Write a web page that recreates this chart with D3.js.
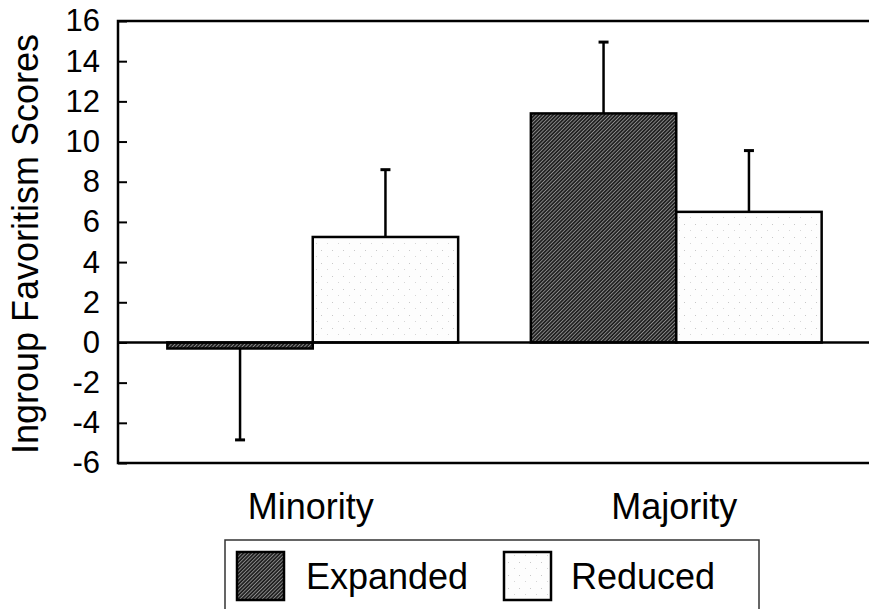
<!DOCTYPE html>
<html>
<head>
<meta charset="utf-8">
<script src="https://cdn.jsdelivr.net/npm/d3@7"></script>
<style>
  html, body { margin: 0; padding: 0; background: #fff; }
  svg { display: block; font-family: "Liberation Sans", Arial, Helvetica, sans-serif; }
</style>
</head>
<body>
<svg id="chart"></svg>
<script>
const width = 869;
const height = 609;

// data
const groups = ["Minority", "Majority"];
const conditions = ["Expanded", "Reduced"];
const expandedMeans = [-0.3, 11.4];
const reducedMeans = [5.25, 6.5];
const expandedErrors = [4.55, 3.55];
const reducedErrors = [3.35, 3.05];
const yTicks = [16, 14, 12, 10, 8, 6, 4, 2, 0, -2, -4, -6];

const rows = [];
groups.forEach((g, i) => {
  rows.push({ group: g, cond: "Expanded", value: expandedMeans[i], err: expandedErrors[i] });
  rows.push({ group: g, cond: "Reduced", value: reducedMeans[i], err: reducedErrors[i] });
});

const svg = d3.select("#chart")
  .attr("width", width)
  .attr("height", height);

const plotLeft = 118, plotTop = 21, plotBottom = 463;

const y = d3.scaleLinear()
  .domain([-6, 16])
  .range([plotBottom, plotTop]);

const x0 = d3.scaleBand()
  .domain(groups)
  .range([131, 858])
  .paddingInner(0.2)
  .paddingOuter(0.1);

const x1 = d3.scaleBand()
  .domain(conditions)
  .range([0, x0.bandwidth()]);

// --- fill patterns ---
const defs = svg.append("defs");

const hatch = defs.append("pattern")
  .attr("id", "hatch")
  .attr("patternUnits", "userSpaceOnUse")
  .attr("width", 2.6)
  .attr("height", 2.6)
  .attr("patternTransform", "rotate(45)");
hatch.append("rect").attr("width", 2.6).attr("height", 2.6).attr("fill", "#1f1f1f");
hatch.append("rect").attr("width", 0.9).attr("height", 2.6).attr("fill", "#8c8c8c");

const stipple = defs.append("pattern")
  .attr("id", "stipple")
  .attr("patternUnits", "userSpaceOnUse")
  .attr("width", 11)
  .attr("height", 13);
stipple.append("rect").attr("width", 11).attr("height", 13).attr("fill", "#fdfdfd");
stipple.append("rect").attr("x", 2).attr("y", 3).attr("width", 1).attr("height", 1).attr("fill", "#c8c8c8");
stipple.append("rect").attr("x", 8).attr("y", 9).attr("width", 1).attr("height", 1).attr("fill", "#d6d6d6");

const fills = { Expanded: "url(#hatch)", Reduced: "url(#stipple)" };

// --- frame (right side runs off the picture) ---
svg.append("rect")
  .attr("x", plotLeft)
  .attr("y", plotTop)
  .attr("width", 780)
  .attr("height", plotBottom - plotTop)
  .attr("fill", "none")
  .attr("stroke", "#000")
  .attr("stroke-width", 2.5);

// --- y axis ---
const yAxis = d3.axisRight(y)
  .tickValues(yTicks)
  .tickSize(9)
  .tickFormat(d3.format("d"));

const ya = svg.append("g")
  .attr("transform", `translate(${plotLeft},0)`)
  .call(yAxis);
ya.select(".domain").remove();
ya.selectAll(".tick line").attr("stroke", "#000").attr("stroke-width", 2);
ya.selectAll(".tick text")
  .attr("x", -18)
  .attr("text-anchor", "end")
  .attr("font-size", 31)
  .attr("fill", "#000")
  .text(d => d < 0 ? "-" + Math.abs(d) : d);

svg.append("text")
  .attr("transform", `translate(38,${(plotTop + plotBottom) / 2 + 2}) rotate(-90)`)
  .attr("text-anchor", "middle")
  .attr("font-size", 36)
  .attr("fill", "#000")
  .text("Ingroup Favoritism Scores");

// --- bars ---
const barG = svg.append("g");

barG.selectAll("rect")
  .data(rows)
  .join("rect")
  .attr("x", d => x0(d.group) + x1(d.cond))
  .attr("width", x1.bandwidth())
  .attr("y", d => y(Math.max(0, d.value)))
  .attr("height", d => Math.abs(y(d.value) - y(0)))
  .attr("fill", d => fills[d.cond])
  .attr("stroke", "#000")
  .attr("stroke-width", 2.5);

// error bars go away from zero
const errG = svg.append("g")
  .attr("stroke", "#000")
  .attr("stroke-width", 2.5);

rows.forEach(d => {
  const cx = x0(d.group) + x1(d.cond) + x1.bandwidth() / 2;
  const end = d.value < 0 ? d.value - d.err : d.value + d.err;
  errG.append("line")
    .attr("x1", cx).attr("x2", cx)
    .attr("y1", y(d.value)).attr("y2", y(end));
  errG.append("line")
    .attr("x1", cx - 5).attr("x2", cx + 5)
    .attr("y1", y(end)).attr("y2", y(end))
    .attr("stroke-width", 3);
});

// zero line
svg.append("line")
  .attr("x1", plotLeft)
  .attr("x2", width + 10)
  .attr("y1", y(0))
  .attr("y2", y(0))
  .attr("stroke", "#000")
  .attr("stroke-width", 2.5);

// --- category labels ---
svg.append("g")
  .selectAll("text")
  .data(groups)
  .join("text")
  .attr("x", d => x0(d) + x0.bandwidth() / 2 - 2)
  .attr("y", 519)
  .attr("text-anchor", "middle")
  .attr("font-size", 36)
  .attr("fill", "#000")
  .text(d => d);

// --- legend ---
const legend = svg.append("g");

legend.append("rect")
  .attr("x", 225)
  .attr("y", 540)
  .attr("width", 534)
  .attr("height", 100)
  .attr("fill", "none")
  .attr("stroke", "#333")
  .attr("stroke-width", 1.5);

const legendItems = [
  { cond: "Expanded", sx: 237, tx: 306 },
  { cond: "Reduced", sx: 504, tx: 571 }
];

legend.selectAll("rect.swatch")
  .data(legendItems)
  .join("rect")
  .attr("class", "swatch")
  .attr("x", d => d.sx)
  .attr("y", 552)
  .attr("width", 47)
  .attr("height", 48)
  .attr("fill", d => fills[d.cond])
  .attr("stroke", "#000")
  .attr("stroke-width", 2.5);

legend.selectAll("text")
  .data(legendItems)
  .join("text")
  .attr("x", d => d.tx)
  .attr("y", 589)
  .attr("font-size", 36)
  .attr("fill", "#000")
  .text(d => d.cond);
</script>
</body>
</html>
